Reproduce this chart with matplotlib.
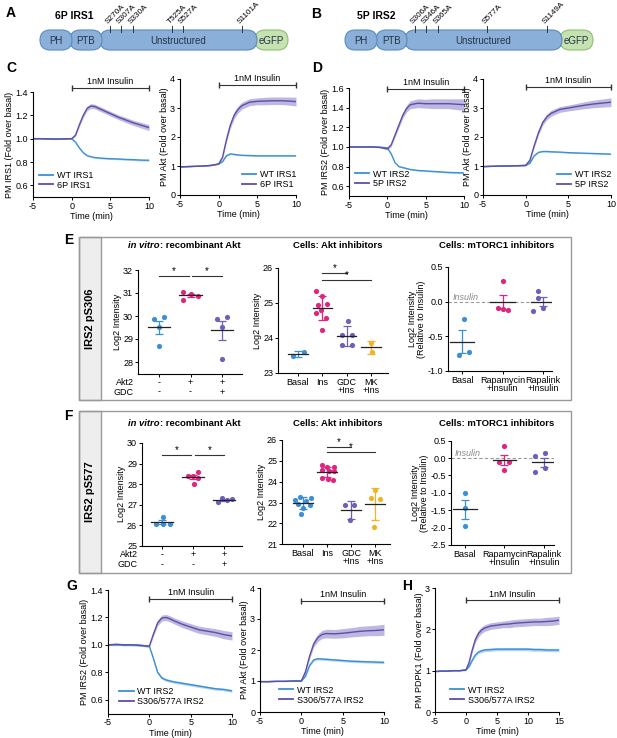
import numpy as np
import matplotlib.pyplot as plt
import matplotlib.patches as mpatches

plt.rcParams["font.family"] = ["Liberation Sans", "DejaVu Sans"]
plt.rcParams["axes.unicode_minus"] = False
plt.rcParams["font.size"] = 6.5

W, H = 617, 738

BLUE = "#3b8fd4"
BLUE_BAND = "#9cc8ee"
PURPLE = "#5b50a6"
PURPLE_BAND = "#a79fd8"
PINK = "#e0257f"
DOT_PURPLE = "#6e5fb8"
ORANGE = "#f4b223"

# ---- time courses -------------------------------------------------------
T = [-5, -4, -3, -2, -1, 0, 0.5, 1, 1.5, 2, 2.5, 3, 4, 5, 6, 7, 8, 9, 10]

C_IRS1_WT = [1.0, 1.0, 0.998, 0.997, 0.998, 1.0, 0.97, 0.92, 0.88, 0.855, 0.845, 0.838, 0.832, 0.828, 0.826, 0.822, 0.82, 0.816, 0.815]
C_IRS1_WT_ERR = [0.004, 0.004, 0.004, 0.004, 0.004, 0.004, 0.005, 0.006, 0.006, 0.006, 0.006, 0.006, 0.007, 0.007, 0.007, 0.007, 0.008, 0.008, 0.008]
C_IRS1_6P = [1.0, 1.0, 0.998, 0.997, 0.998, 1.0, 1.03, 1.12, 1.2, 1.26, 1.28, 1.275, 1.245, 1.215, 1.185, 1.16, 1.135, 1.115, 1.095]
C_IRS1_6P_ERR = [0.005, 0.005, 0.005, 0.005, 0.005, 0.006, 0.01, 0.015, 0.018, 0.02, 0.02, 0.02, 0.02, 0.02, 0.02, 0.022, 0.022, 0.024, 0.025]

C_AKT_WT = [0.97, 0.98, 0.99, 1.0, 1.02, 1.07, 1.15, 1.35, 1.42, 1.40, 1.38, 1.37, 1.36, 1.35, 1.35, 1.35, 1.35, 1.35, 1.35]
C_AKT_WT_ERR = [0.01, 0.01, 0.01, 0.01, 0.01, 0.015, 0.02, 0.02, 0.02, 0.02, 0.02, 0.02, 0.02, 0.02, 0.02, 0.02, 0.02, 0.02, 0.02]
C_AKT_6P = [0.97, 0.98, 0.99, 1.0, 1.02, 1.07, 1.3, 1.9, 2.4, 2.75, 2.95, 3.08, 3.2, 3.23, 3.24, 3.25, 3.25, 3.24, 3.22]
C_AKT_6P_ERR = [0.01, 0.01, 0.01, 0.01, 0.01, 0.02, 0.04, 0.08, 0.1, 0.12, 0.12, 0.12, 0.12, 0.12, 0.13, 0.13, 0.13, 0.14, 0.15]

D_IRS2_WT = [1.0, 1.0, 1.0, 1.0, 0.998, 0.99, 0.93, 0.84, 0.80, 0.79, 0.78, 0.77, 0.76, 0.755, 0.75, 0.745, 0.74, 0.738, 0.735]
D_IRS2_WT_ERR = [0.004, 0.004, 0.004, 0.004, 0.004, 0.005, 0.006, 0.006, 0.006, 0.006, 0.006, 0.006, 0.007, 0.007, 0.007, 0.007, 0.008, 0.008, 0.008]
D_IRS2_5P = [1.0, 1.0, 1.0, 1.0, 0.995, 0.98, 1.02, 1.12, 1.22, 1.32, 1.39, 1.43, 1.445, 1.44, 1.44, 1.44, 1.44, 1.435, 1.43]
D_IRS2_5P_ERR = [0.005, 0.005, 0.005, 0.005, 0.005, 0.01, 0.015, 0.02, 0.025, 0.03, 0.035, 0.04, 0.045, 0.045, 0.05, 0.05, 0.05, 0.055, 0.06]

D_AKT_WT = [0.98, 0.99, 1.0, 1.0, 1.01, 1.02, 1.1, 1.35, 1.47, 1.5, 1.5, 1.49, 1.48, 1.46, 1.45, 1.44, 1.43, 1.42, 1.41]
D_AKT_WT_ERR = [0.01, 0.01, 0.01, 0.01, 0.01, 0.01, 0.015, 0.02, 0.02, 0.02, 0.02, 0.02, 0.02, 0.02, 0.02, 0.02, 0.02, 0.02, 0.02]
D_AKT_5P = [0.98, 0.99, 1.0, 1.0, 1.01, 1.02, 1.2, 1.7, 2.15, 2.5, 2.7, 2.82, 2.95, 3.0, 3.05, 3.1, 3.14, 3.17, 3.2]
D_AKT_5P_ERR = [0.01, 0.01, 0.01, 0.01, 0.01, 0.02, 0.03, 0.06, 0.08, 0.09, 0.1, 0.1, 0.1, 0.1, 0.11, 0.12, 0.13, 0.14, 0.15]

G_IRS2_WT = [1.0, 1.0, 1.0, 1.0, 0.998, 0.99, 0.9, 0.8, 0.76, 0.745, 0.737, 0.73, 0.72, 0.71, 0.70, 0.69, 0.68, 0.675, 0.665]
G_IRS2_WT_ERR = [0.006, 0.006, 0.006, 0.006, 0.006, 0.006, 0.008, 0.01, 0.01, 0.01, 0.01, 0.01, 0.01, 0.01, 0.01, 0.01, 0.01, 0.01, 0.01]
G_IRS2_MUT = [1.0, 1.005, 1.0, 1.0, 0.995, 0.99, 1.08, 1.16, 1.195, 1.2, 1.19, 1.175, 1.15, 1.13, 1.11, 1.1, 1.09, 1.075, 1.065]
G_IRS2_MUT_ERR = [0.006, 0.006, 0.006, 0.006, 0.006, 0.008, 0.015, 0.02, 0.022, 0.022, 0.022, 0.022, 0.024, 0.025, 0.026, 0.027, 0.028, 0.03, 0.03]

G_AKT_WT = [0.98, 0.98, 0.99, 0.99, 1.0, 1.0, 1.15, 1.5, 1.68, 1.72, 1.71, 1.7, 1.68, 1.66, 1.64, 1.63, 1.62, 1.61, 1.6]
G_AKT_WT_ERR = [0.01, 0.01, 0.01, 0.01, 0.01, 0.01, 0.02, 0.03, 0.04, 0.04, 0.04, 0.04, 0.04, 0.04, 0.04, 0.04, 0.04, 0.04, 0.04]
G_AKT_MUT = [0.98, 0.98, 0.99, 0.99, 1.0, 1.0, 1.3, 1.8, 2.2, 2.4, 2.5, 2.53, 2.52, 2.54, 2.57, 2.6, 2.62, 2.63, 2.65]
G_AKT_MUT_ERR = [0.01, 0.01, 0.01, 0.01, 0.01, 0.02, 0.05, 0.08, 0.1, 0.12, 0.13, 0.14, 0.14, 0.15, 0.15, 0.16, 0.16, 0.17, 0.18]

H_T = [-5, -4, -3, -2, -1, 0, 0.5, 1, 1.5, 2, 2.5, 3, 4, 5, 6, 7, 8, 9, 10, 11, 12, 13, 14, 15]
H_WT = [0.98, 0.99, 0.99, 1.0, 1.0, 1.02, 1.1, 1.25, 1.38, 1.45, 1.48, 1.5, 1.51, 1.52, 1.52, 1.52, 1.52, 1.52, 1.52, 1.51, 1.51, 1.5, 1.5, 1.5]
H_WT_ERR = [0.01, 0.01, 0.01, 0.01, 0.01, 0.01, 0.02, 0.03, 0.04, 0.04, 0.04, 0.04, 0.04, 0.04, 0.04, 0.04, 0.04, 0.04, 0.04, 0.04, 0.04, 0.04, 0.04, 0.04]
H_MUT = [0.98, 0.99, 0.99, 1.0, 1.0, 1.02, 1.2, 1.5, 1.75, 1.9, 1.98, 2.03, 2.08, 2.1, 2.12, 2.13, 2.15, 2.16, 2.17, 2.18, 2.18, 2.19, 2.2, 2.22]
H_MUT_ERR = [0.01, 0.01, 0.01, 0.01, 0.01, 0.02, 0.04, 0.06, 0.07, 0.08, 0.08, 0.08, 0.08, 0.08, 0.08, 0.09, 0.09, 0.09, 0.09, 0.09, 0.09, 0.1, 0.1, 0.1]

# ---- phosphoproteomics dot plots ----------------------------------------
VITRO_SIGNS_AKT2 = ["-", "+", "+"]
VITRO_SIGNS_GDC = ["-", "-", "+"]
AKT_CATS = ["Basal", "Ins", "GDC\n+Ins", "MK\n+Ins"]
MTOR_CATS = ["Basal", "Rapamycin\n+Insulin", "Rapalink\n+Insulin"]

E_VITRO = [[29.86, 29.97, 29.51, 28.70], [31.06, 30.94, 30.87, 30.70], [29.86, 29.97, 29.51, 28.15]]
E_VITRO_X = [[-0.17, 0.15, 0.0, 0.0], [-0.25, 0.0, 0.24, -0.25], [-0.17, 0.15, 0.0, 0.0]]
E_VITRO_SIG = [31.74, 31.74]

E_AKT = [[23.48, 23.60],
         [25.33, 25.20, 24.94, 24.96, 24.80, 24.72, 24.58, 24.24],
         [24.49, 24.09, 24.09, 23.81, 23.81],
         [23.86, 23.60]]
E_AKT_X = [[-0.2, 0.23],
           [-0.25, 0.0, -0.16, 0.2, -0.07, -0.25, 0.14, 0.0],
           [0.04, -0.2, 0.23, -0.2, 0.23],
           [0.0, 0.05]]
E_AKT_SIG = [25.86, 25.66]

E_MTOR = [[-0.25, -0.77, -0.72], [0.30, -0.09, -0.10, -0.12], [0.15, 0.06, -0.13, -0.09]]
E_MTOR_X = [[0.04, -0.07, 0.16], [0.0, -0.12, 0.0, 0.14], [-0.12, -0.12, -0.24, 0.0]]

F_VITRO = [[26.42, 26.08, 26.05, 26.05], [28.41, 28.38, 28.57, 28.30, 28.02], [27.15, 27.33, 27.22, 27.25]]
F_VITRO_X = [[0.03, -0.2, 0.03, 0.25], [-0.17, 0.0, 0.17, 0.15, 0.03], [-0.2, -0.05, 0.1, 0.25]]
F_VITRO_SIG = [29.41, 29.41]

F_AKT = [[23.29, 23.24, 23.13, 23.08, 22.92, 22.89, 22.73, 22.44],
         [24.80, 24.70, 24.70, 24.55, 24.50, 24.50, 24.20, 24.15, 24.10],
         [22.89, 22.89, 22.16],
         [23.58, 23.20, 23.18, 21.82]]
F_AKT_X = [[-0.14, 0.35, -0.35, 0.14, -0.2, 0.28, 0.0, -0.07],
           [-0.2, 0.0, 0.3, -0.2, 0.1, 0.3, -0.2, 0.05, 0.25],
           [-0.25, 0.14, -0.05],
           [0.0, -0.18, 0.2, -0.05]]
F_AKT_SIG = [25.66, 25.42]

F_MTOR = [[-1.0, -1.45, -1.95], [0.35, -0.10, -0.12, -0.33], [0.05, 0.15, -0.39, -0.29]]
F_MTOR_X = [[0.0, 0.0, 0.0], [0.0, -0.15, 0.12, 0.0], [-0.22, 0.03, -0.22, 0.03]]

A_SITES = ["S270A", "S307A", "S330A", "T525A", "S527A", "S1101A"]
B_SITES = ["S306A", "S346A", "S365A", "S577A", "S1149A"]


fig = plt.figure(figsize=(W / 100, H / 100), dpi=100)


def box(l, r, t, b):
    return [l / W, 1 - b / H, (r - l) / W, (b - t) / H]


# overlay in pixel units for diagrams, boxes and panel letters
ov = fig.add_axes([0, 0, 1, 1])
ov.set_xlim(0, W)
ov.set_ylim(H, 0)
ov.axis("off")


def letter(x, y, s):
    ov.text(x, y, s, fontsize=10, fontweight="bold", ha="left", va="center")


def domain(x0, x1, y0, y1, face, edge, label):
    p = mpatches.FancyBboxPatch((x0, y0), x1 - x0, y1 - y0,
                                boxstyle="round,pad=0,rounding_size=10",
                                fc=face, ec=edge, lw=0.8, mutation_aspect=1)
    ov.add_patch(p)
    ov.text((x0 + x1) / 2, (y0 + y1) / 2 + 0.5, label, ha="center", va="center",
            fontsize=7, color="#243447")


def diagram(title, tx, parts, sites, site_x, y0, y1):
    ov.text(tx, 16, title, fontsize=7.5, fontweight="bold", ha="left", va="center")
    (ph, ptb, un, gfp) = parts
    domain(gfp[0], gfp[1], y0, y1, "#c6e2b1", "#8dbd76", "eGFP")
    domain(un[0], un[1], y0, y1, "#8aafd9", "#5a8ac0", "Unstructured")
    domain(ptb[0], ptb[1], y0, y1, "#8aafd9", "#5a8ac0", "PTB")
    domain(ph[0], ph[1], y0, y1, "#8aafd9", "#5a8ac0", "PH")
    for s, x in zip(sites, site_x):
        ov.plot([x, x], [y0 - 4, y0 + 2], color="#333333", lw=0.7)
        ov.text(x - 1, y0 - 4.5, s, rotation=45, rotation_mode="anchor",
                ha="left", va="bottom", fontsize=5.9)


letter(6, 13, "A")
diagram("6P IRS1", 55, [(40, 72), (70, 102), (100, 257), (255, 288)],
        A_SITES, [110, 120.7, 132.7, 172.3, 182.7, 242.3], 30, 50)
letter(311, 14, "B")
diagram("5P IRS2", 357, [(345, 377), (376, 407), (405, 562), (560, 593)],
        B_SITES, [415, 426, 437.7, 486.7, 547.3], 30, 50)

letter(6, 68, "C")
letter(312, 68, "D")
letter(64, 240, "E")
letter(64, 416, "F")
letter(66, 586, "G")
letter(402, 586, "H")

for top, bot, name in [(237, 400, "IRS2 pS306"), (411, 573, "IRS2 pS577")]:
    ov.add_patch(mpatches.Rectangle((79, top), 22, bot - top, fc="#eeeeee", ec="#9a9a9a", lw=1))
    ov.add_patch(mpatches.Rectangle((79, top), 492, bot - top, fc="none", ec="#9a9a9a", lw=1))
    ov.text(90, (top + bot) / 2, name, rotation=90, ha="center", va="center",
            fontsize=8, fontweight="bold")


def style(ax):
    for s in ["top", "right"]:
        ax.spines[s].set_visible(False)
    for s in ["left", "bottom"]:
        ax.spines[s].set_linewidth(0.8)
    ax.tick_params(direction="out", length=2.5, width=0.7, labelsize=6.5, pad=1)
    ax.set_facecolor("none")


def trace(rect, t, wt, wt_err, mut, mut_err, labels, ylim, yticks, ylabel,
          xlim, xticks, bar_y, bar_x, legend_loc, legend_anchor):
    ax = fig.add_axes(box(*rect))
    style(ax)
    t = np.array(t)
    for y, e, c, b in [(wt, wt_err, BLUE, BLUE_BAND), (mut, mut_err, PURPLE, PURPLE_BAND)]:
        y = np.array(y)
        e = np.array(e)
        ax.fill_between(t, y - e, y + e, color=b, alpha=0.75, lw=0)
        ax.plot(t, y, color=c, lw=1.0)
    ax.plot([], [], color=BLUE, lw=1.3, label=labels[0])
    ax.plot([], [], color=PURPLE, lw=1.3, label=labels[1])
    ax.set_xlim(*xlim)
    ax.set_xticks(xticks)
    ax.set_ylim(*ylim)
    ax.set_yticks(yticks)
    ax.set_yticklabels([f"{v:g}" if v == int(v) and ylim[1] >= 3 else f"{v:.1f}" for v in yticks])
    ax.set_xlabel("Time (min)", fontsize=6.5, labelpad=1)
    ax.set_ylabel(ylabel, fontsize=6.5, labelpad=1)
    tr = ax.get_xaxis_transform()
    ax.plot(bar_x, [bar_y, bar_y], color="#333333", lw=0.8, marker="|", ms=4,
            transform=tr, clip_on=False)
    ax.text(sum(bar_x) / 2, bar_y + 0.015, "1nM Insulin", ha="center", va="bottom",
            fontsize=6.5, transform=tr)
    h = [l for l in ax.get_lines() if not l.get_label().startswith("_")]
    ax.legend(handles=h, loc=legend_loc, bbox_to_anchor=legend_anchor, frameon=False,
              fontsize=6.5, handlelength=1.6, handletextpad=0.4, labelspacing=0.1,
              borderpad=0, borderaxespad=0)
    return ax


trace((33, 149, 92, 197), T, C_IRS1_WT, C_IRS1_WT_ERR, C_IRS1_6P, C_IRS1_6P_ERR,
      ["WT IRS1", "6P IRS1"], (0.5, 1.4), [0.6, 0.8, 1.0, 1.2, 1.4],
      "PM IRS1 (Fold over basal)", (-5, 10), [-5, 0, 5, 10], 1.04, [0, 10],
      "lower left", (0.05, 0.07))
trace((180, 296, 79, 195), T, C_AKT_WT, C_AKT_WT_ERR, C_AKT_6P, C_AKT_6P_ERR,
      ["WT IRS1", "6P IRS1"], (0, 4), [0, 1, 2, 3, 4],
      "PM Akt (Fold over basal)", (-5, 10), [-5, 0, 5, 10], 0.95, [0, 10],
      "lower right", (1.0, 0.05))
trace((349, 464, 88, 196), T, D_IRS2_WT, D_IRS2_WT_ERR, D_IRS2_5P, D_IRS2_5P_ERR,
      ["WT IRS2", "5P IRS2"], (0.5, 1.6), [0.6, 0.8, 1.0, 1.2, 1.4, 1.6],
      "PM IRS2 (Fold over basal)", (-5, 10), [-5, 0, 5, 10], 0.99, [0, 10],
      "lower left", (0.05, 0.07))
trace((483, 611, 79, 195), T, D_AKT_WT, D_AKT_WT_ERR, D_AKT_5P, D_AKT_5P_ERR,
      ["WT IRS2", "5P IRS2"], (0, 4), [0, 1, 2, 3, 4],
      "PM Akt (Fold over basal)", (-5, 10), [-5, 0, 5, 10], 0.93, [0, 10],
      "lower right", (1.0, 0.05))
trace((108, 232, 590, 713.5), T, G_IRS2_WT, G_IRS2_WT_ERR, G_IRS2_MUT, G_IRS2_MUT_ERR,
      ["WT IRS2", "S306/577A IRS2"], (0.5, 1.4), [0.6, 0.8, 1.0, 1.2, 1.4],
      "PM IRS2 (Fold over basal)", (-5, 10), [-5, 0, 5, 10], 0.925, [0, 10],
      "lower left", (0.09, 0.06))
trace((260, 384, 588, 712), T, G_AKT_WT, G_AKT_WT_ERR, G_AKT_MUT, G_AKT_MUT_ERR,
      ["WT IRS2", "S306/577A IRS2"], (0, 4), [0, 1, 2, 3, 4],
      "PM Akt (Fold over basal)", (-5, 10), [-5, 0, 5, 10], 0.895, [0, 10],
      "lower left", (0.15, 0.06))
trace((435, 559, 588, 712), H_T, H_WT, H_WT_ERR, H_MUT, H_MUT_ERR,
      ["WT IRS2", "S306/577A IRS2"], (0, 3), [0, 1, 2, 3],
      "PM PDPK1 (Fold over basal)", (-5, 15), [-5, 0, 5, 10, 15], 0.9, [0, 15],
      "lower left", (0.12, 0.06))


def dots(rect, groups, offs, colors, xlim, ylim, yticks, ylabel, err, cats=None,
         half=0.33):
    ax = fig.add_axes(box(*rect))
    style(ax)
    for i, (vals, dx, c) in enumerate(zip(groups, offs, colors)):
        vals = np.array(vals)
        m = vals.mean()
        e = vals.std(ddof=1)
        if err == "sem":
            e = e / np.sqrt(len(vals))
        ax.errorbar(i, m, yerr=e, color=c, capsize=3.2, lw=0.9, capthick=0.9, zorder=2)
        ax.scatter(i + np.array(dx), vals, s=14, color=c, lw=0, zorder=3)
        ax.plot([i - half, i + half], [m, m], color="#222222", lw=0.9, zorder=4)
    ax.set_xlim(*xlim)
    ax.set_ylim(*ylim)
    ax.set_yticks(yticks)
    ax.set_xticks(range(len(groups)))
    if cats is None:
        ax.set_xticklabels([])
    else:
        ax.set_xticklabels(cats, fontsize=6.5, linespacing=0.85)
    ax.set_ylabel(ylabel, fontsize=6.5, labelpad=1, linespacing=1.0)
    return ax


def sig(ax, pairs, heights):
    for (a, b), h in zip(pairs, heights):
        ax.plot([a, b], [h, h], color="#333333", lw=0.8, clip_on=False)
        ax.text((a + b) / 2, h, "*", ha="center", va="bottom", fontsize=7)


def signs(ax):
    tr = ax.get_xaxis_transform()
    ax.text(-0.04, -0.085, "Akt2", transform=ax.transAxes, ha="right", va="center", fontsize=6.5)
    ax.text(-0.04, -0.18, "GDC", transform=ax.transAxes, ha="right", va="center", fontsize=6.5)
    for i, (a, g) in enumerate(zip(VITRO_SIGNS_AKT2, VITRO_SIGNS_GDC)):
        ax.text(i, -0.085, a, transform=tr, ha="center", va="center", fontsize=6.5)
        ax.text(i, -0.18, g, transform=tr, ha="center", va="center", fontsize=6.5)


def title(x, y, s, italic=None):
    if italic is None:
        ov.text(x, y, s, ha="center", va="center", fontsize=6.8, fontweight="bold")
    else:
        t1 = ov.text(x, y, italic, ha="left", va="center", fontsize=6.8,
                     fontweight="bold", style="italic")
        ov.annotate(s, xy=(1, 0), xycoords=t1, ha="left", va="bottom",
                    fontsize=6.8, fontweight="bold")


def insulin_line(ax):
    ax.axhline(0, color="#999999", lw=0.8, ls=(0, (3, 2)), zorder=1)
    ax.text(0.04, 0.0, "Insulin", transform=ax.get_yaxis_transform(), ha="left",
            va="bottom", fontsize=6.5, style="italic", color="#8a8a8a")


VCOL = [BLUE, PINK, DOT_PURPLE]
ACOL = [BLUE, PINK, DOT_PURPLE, ORANGE]

# E
title(128, 246, ": recombinant Akt", italic="in vitro")
title(338, 246, "Cells: Akt inhibitors")
title(497, 246, "Cells: mTORC1 inhibitors")
ax = dots((138, 242, 270, 373.5), E_VITRO, E_VITRO_X, VCOL, (-0.667, 2.635),
          (27.5, 32), [28, 29, 30, 31, 32], "Log2 Intensity", "sem", half=0.36)
sig(ax, [(0, 0.95), (1.05, 2)], E_VITRO_SIG)
signs(ax)
ax = dots((278, 388, 268, 373), E_AKT, E_AKT_X, ACOL, (-0.82, 3.7),
          (23, 26), [23, 24, 25, 26], "Log2 Intensity", "sd", cats=AKT_CATS, half=0.4)
sig(ax, [(1, 2), (1, 3)], E_AKT_SIG)
ax = dots((448, 552, 267, 371), E_MTOR, E_MTOR_X, VCOL, (-0.35, 2.22),
          (-1.0, 0.5), [-1.0, -0.5, 0.0, 0.5], "Log2 Intensity\n(Relative to Insulin)",
          "sem", cats=MTOR_CATS, half=0.3)
ax.set_yticklabels(["-1.0", "-0.5", "0.0", "0.5"])
insulin_line(ax)

# F
title(128, 423, ": recombinant Akt", italic="in vitro")
title(338, 423, "Cells: Akt inhibitors")
title(497, 423, "Cells: mTORC1 inhibitors")
ax = dots((142, 242, 443, 545.7), F_VITRO, F_VITRO_X, VCOL, (-0.645, 2.58),
          (25, 30), [25, 26, 27, 28, 29, 30], "Log2 Intensity", "sem", half=0.36)
sig(ax, [(0, 0.95), (1.05, 2)], F_VITRO_SIG)
signs(ax)
ax = dots((282, 390, 440, 544.3), F_AKT, F_AKT_X, ACOL, (-0.875, 3.625),
          (21, 26), [21, 22, 23, 24, 25, 26], "Log2 Intensity", "sd", cats=AKT_CATS, half=0.4)
sig(ax, [(1, 2), (1, 3)], F_AKT_SIG)
ax = dots((451, 554, 440.7, 545), F_MTOR, F_MTOR_X, VCOL, (-0.35, 2.25),
          (-2.5, 0.5), [-2.5, -2.0, -1.5, -1.0, -0.5, 0.0, 0.5],
          "Log2 Intensity\n(Relative to Insulin)", "sem", cats=MTOR_CATS, half=0.3)
ax.set_yticklabels(["-2.5", "-2.0", "-1.5", "-1.0", "-0.5", "0.0", "0.5"])
insulin_line(ax)

fig.savefig("out.png", dpi=100)
